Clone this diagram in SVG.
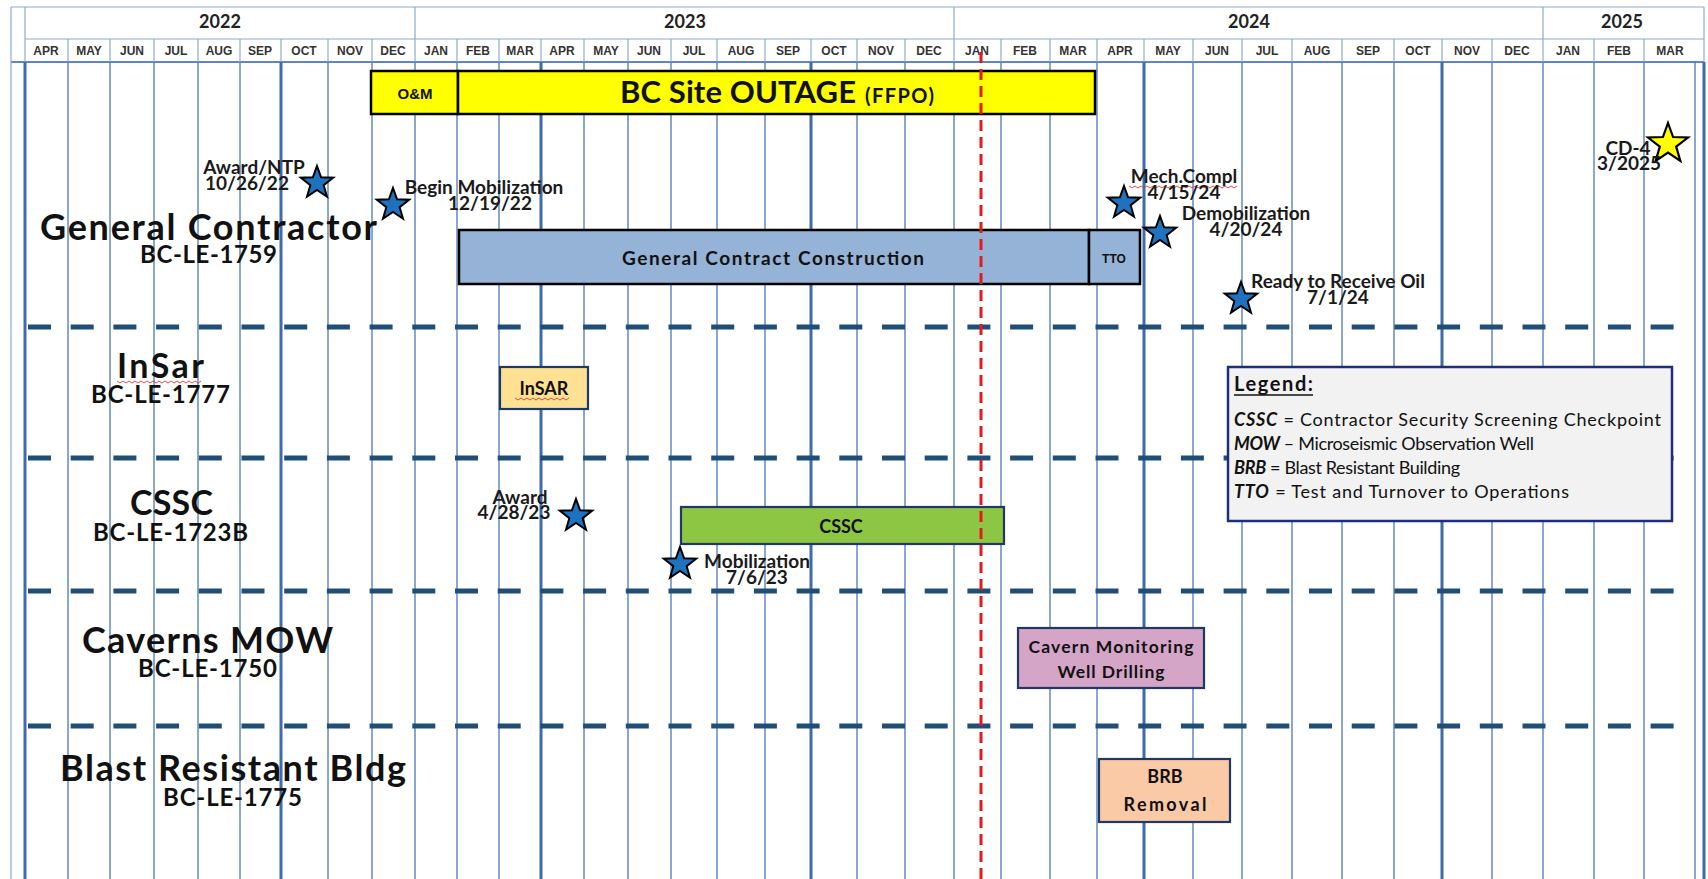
<svg xmlns="http://www.w3.org/2000/svg" xmlns:xlink="http://www.w3.org/1999/xlink" width="1708" height="879" viewBox="0 0 1708 879">
<defs>
<style>
.yr{font-family:Lato,"Open Sans",sans-serif;font-weight:bold;font-size:18px;fill:#222;text-anchor:middle}
.mo{font-family:"Liberation Sans",Arial,sans-serif;font-weight:bold;font-size:12px;fill:#333;text-anchor:middle}
.big{font-family:Lato,"Open Sans",sans-serif;font-weight:bold;font-size:36px;fill:#111}
.sub{font-family:Lato,"Open Sans",sans-serif;font-weight:bold;font-size:24px;fill:#111}
.ms{font-family:Lato,"Open Sans",sans-serif;font-weight:bold;font-size:19px;fill:#1a1a1a;text-anchor:middle}
.bx{font-family:Lato,"Open Sans",sans-serif;font-weight:bold;font-size:18px;fill:#111;text-anchor:middle}
.ar{font-family:"Liberation Sans",Arial,sans-serif;font-weight:bold;fill:#111;text-anchor:middle}
.lg{font-family:Lato,"Open Sans",sans-serif;font-size:18px;fill:#111}
.lgb{font-weight:bold;font-style:italic}
.hl{stroke:#8eaad6;stroke-width:1.2;fill:none}
.gl{stroke:#4a78b5;stroke-width:1.3}
.gt{stroke:#3d6ca8;stroke-width:3}
.sep{stroke:#1f4e79;stroke-width:5;stroke-dasharray:23 19.7;fill:none}
.box{stroke:#1f3864;stroke-width:2.2}
.bar{stroke:#000;stroke-width:2.5}
.star{fill:#1e73be;stroke:#000;stroke-width:2;stroke-linejoin:miter}
.sq{stroke:#e03a3a;stroke-width:0.9;fill:none}
</style>
<path id="st" d="M0,-17 L4.11,-5.66 L16.17,-5.25 L6.66,2.16 L9.99,13.75 L0,7 L-9.99,13.75 L-6.66,2.16 L-16.17,-5.25 L-4.11,-5.66 Z"/>
</defs>
<rect width="1708" height="879" fill="#fff"/>

<g id="header">
<line class="hl" x1="11" y1="7" x2="1704" y2="7"/>
<line class="hl" x1="25" y1="39" x2="1704" y2="39"/>
<line x1="11" y1="62" x2="1704" y2="62" stroke="#5b87c5" stroke-width="2"/>
<line class="hl" x1="11" y1="7" x2="11" y2="879" stroke="#a9c1e3"/>
<line class="hl" x1="25" y1="7" x2="25" y2="62"/>
<line class="hl" x1="415" y1="7" x2="415" y2="39"/>
<line class="hl" x1="954" y1="7" x2="954" y2="39"/>
<line class="hl" x1="1543" y1="7" x2="1543" y2="39"/>
<g class="hl">
<line x1="68" y1="39" x2="68" y2="62"/><line x1="110" y1="39" x2="110" y2="62"/><line x1="154" y1="39" x2="154" y2="62"/><line x1="198" y1="39" x2="198" y2="62"/><line x1="240" y1="39" x2="240" y2="62"/><line x1="281" y1="39" x2="281" y2="62"/><line x1="328" y1="39" x2="328" y2="62"/><line x1="372" y1="39" x2="372" y2="62"/><line x1="415" y1="39" x2="415" y2="62"/><line x1="457" y1="39" x2="457" y2="62"/><line x1="499" y1="39" x2="499" y2="62"/><line x1="541" y1="39" x2="541" y2="62"/><line x1="584" y1="39" x2="584" y2="62"/><line x1="628" y1="39" x2="628" y2="62"/><line x1="671" y1="39" x2="671" y2="62"/><line x1="717" y1="39" x2="717" y2="62"/><line x1="765" y1="39" x2="765" y2="62"/><line x1="811" y1="39" x2="811" y2="62"/><line x1="857" y1="39" x2="857" y2="62"/><line x1="905" y1="39" x2="905" y2="62"/><line x1="954" y1="39" x2="954" y2="62"/><line x1="1001" y1="39" x2="1001" y2="62"/><line x1="1050" y1="39" x2="1050" y2="62"/><line x1="1097" y1="39" x2="1097" y2="62"/><line x1="1144" y1="39" x2="1144" y2="62"/><line x1="1193" y1="39" x2="1193" y2="62"/><line x1="1242" y1="39" x2="1242" y2="62"/><line x1="1292" y1="39" x2="1292" y2="62"/><line x1="1342" y1="39" x2="1342" y2="62"/><line x1="1394" y1="39" x2="1394" y2="62"/><line x1="1442" y1="39" x2="1442" y2="62"/><line x1="1492" y1="39" x2="1492" y2="62"/><line x1="1543" y1="39" x2="1543" y2="62"/><line x1="1594" y1="39" x2="1594" y2="62"/><line x1="1644" y1="39" x2="1644" y2="62"/><line x1="1704" y1="7" x2="1704" y2="62"/>
</g>
<text class="yr" x="220" y="28">2022</text>
<text class="yr" x="685" y="28">2023</text>
<text class="yr" x="1249" y="28">2024</text>
<text class="yr" x="1622" y="28">2025</text>
<g class="mo">
<text x="46" y="55">APR</text><text x="89" y="55">MAY</text><text x="132" y="55">JUN</text><text x="176" y="55">JUL</text><text x="219" y="55">AUG</text><text x="260" y="55">SEP</text><text x="304" y="55">OCT</text><text x="350" y="55">NOV</text><text x="393" y="55">DEC</text>
<text x="436" y="55">JAN</text><text x="478" y="55">FEB</text><text x="520" y="55">MAR</text><text x="562" y="55">APR</text><text x="606" y="55">MAY</text><text x="649" y="55">JUN</text><text x="694" y="55">JUL</text><text x="741" y="55">AUG</text><text x="788" y="55">SEP</text><text x="834" y="55">OCT</text><text x="881" y="55">NOV</text><text x="929" y="55">DEC</text>
<text x="977" y="55">JAN</text><text x="1025" y="55">FEB</text><text x="1073" y="55">MAR</text><text x="1120" y="55">APR</text><text x="1168" y="55">MAY</text><text x="1217" y="55">JUN</text><text x="1267" y="55">JUL</text><text x="1317" y="55">AUG</text><text x="1368" y="55">SEP</text><text x="1418" y="55">OCT</text><text x="1467" y="55">NOV</text><text x="1517" y="55">DEC</text>
<text x="1568" y="55">JAN</text><text x="1619" y="55">FEB</text><text x="1670" y="55">MAR</text>
</g>
</g>

<g id="grid">
<g class="gl">
<line x1="68" y1="62" x2="68" y2="879"/><line x1="110" y1="62" x2="110" y2="879"/><line x1="154" y1="62" x2="154" y2="879"/><line x1="198" y1="62" x2="198" y2="879"/><line x1="240" y1="62" x2="240" y2="879"/><line x1="328" y1="62" x2="328" y2="879"/><line x1="372" y1="62" x2="372" y2="879"/><line x1="415" y1="62" x2="415" y2="879"/><line x1="457" y1="62" x2="457" y2="879"/><line x1="499" y1="62" x2="499" y2="879"/><line x1="584" y1="62" x2="584" y2="879"/><line x1="628" y1="62" x2="628" y2="879"/><line x1="671" y1="62" x2="671" y2="879"/><line x1="717" y1="62" x2="717" y2="879"/><line x1="765" y1="62" x2="765" y2="879"/><line x1="857" y1="62" x2="857" y2="879"/><line x1="905" y1="62" x2="905" y2="879"/><line x1="954" y1="62" x2="954" y2="879"/><line x1="1001" y1="62" x2="1001" y2="879"/><line x1="1050" y1="62" x2="1050" y2="879"/><line x1="1097" y1="62" x2="1097" y2="879"/><line x1="1193" y1="62" x2="1193" y2="879"/><line x1="1242" y1="62" x2="1242" y2="879"/><line x1="1292" y1="62" x2="1292" y2="879"/><line x1="1342" y1="62" x2="1342" y2="879"/><line x1="1394" y1="62" x2="1394" y2="879"/><line x1="1492" y1="62" x2="1492" y2="879"/><line x1="1543" y1="62" x2="1543" y2="879"/><line x1="1594" y1="62" x2="1594" y2="879"/><line x1="1644" y1="62" x2="1644" y2="879"/><line x1="1695" y1="62" x2="1695" y2="879"/>
</g>
<g class="gt">
<line x1="25" y1="62" x2="25" y2="879"/><line x1="281" y1="62" x2="281" y2="879"/><line x1="541" y1="62" x2="541" y2="879"/><line x1="811" y1="62" x2="811" y2="879"/><line x1="1144" y1="62" x2="1144" y2="879"/><line x1="1442" y1="62" x2="1442" y2="879"/><line x1="1704" y1="62" x2="1704" y2="879"/>
</g>
</g>

<g id="separators">
<line class="sep" x1="28" y1="327" x2="1692" y2="327"/>
<line class="sep" x1="28" y1="458" x2="1692" y2="458"/>
<line class="sep" x1="28" y1="591" x2="1692" y2="591"/>
<line class="sep" x1="28" y1="726" x2="1692" y2="726"/>
</g>

<g id="row-labels">
<text class="big" x="40" y="240" textLength="337" lengthAdjust="spacing">General Contractor</text>
<text class="sub" x="140" y="263" textLength="137" lengthAdjust="spacing">BC-LE-1759</text>
<text class="big" x="117" y="378" textLength="87" lengthAdjust="spacing" style="font-size:34px">InSar</text>
<path class="sq" d="M117,381 l3,2 l3,-2 l3,2 l3,-2 l3,2 l3,-2 l3,2 l3,-2 l3,2 l3,-2 l3,2 l3,-2 l3,2 l3,-2 l3,2 l3,-2 l3,2 l3,-2 l3,2 l3,-2 l3,2 l3,-2 l3,2 l3,-2 l3,2 l3,-2 l3,2 l3,-2"/>
<text class="sub" x="91" y="403" textLength="139" lengthAdjust="spacing">BC-LE-1777</text>
<text class="big" x="130" y="515" textLength="83" lengthAdjust="spacing" style="font-size:34px">CSSC</text>
<text class="sub" x="93" y="541" textLength="155" lengthAdjust="spacing">BC-LE-1723B</text>
<text class="big" x="82" y="653" textLength="251" lengthAdjust="spacing">Caverns MOW</text>
<text class="sub" x="138" y="677" textLength="139" lengthAdjust="spacing">BC-LE-1750</text>
<text class="big" x="60" y="781" textLength="346" lengthAdjust="spacing">Blast Resistant Bldg</text>
<text class="sub" x="163" y="806" textLength="139" lengthAdjust="spacing">BC-LE-1775</text>
</g>

<g id="outage">
<rect class="bar" x="371" y="71" width="87" height="43" fill="#ffff00"/>
<text class="ar" x="415" y="99" style="font-size:15px">O&amp;M</text>
<rect class="bar" x="458" y="71" width="637" height="43" fill="#ffff00"/>
<text class="bx" x="620" y="103" textLength="236" lengthAdjust="spacing" style="font-size:31px;text-anchor:start">BC Site OUTAGE</text>
<text class="bx" x="865" y="103" textLength="69" lengthAdjust="spacing" style="font-size:20px;text-anchor:start">(FFPO)</text>
</g>

<g id="gc-construction">
<rect class="bar" x="459" y="230" width="630" height="54" fill="#95b3d7"/>
<text class="bx" x="773" y="265" textLength="302" lengthAdjust="spacing" style="font-size:19px">General Contract Construction</text>
</g>
<g id="tto">
<rect class="bar" x="1089" y="230" width="51" height="54" fill="#95b3d7"/>
<text class="ar" x="1114" y="263" style="font-size:12px">TTO</text>
</g>

<g id="insar-box">
<rect class="box" x="500" y="367" width="88" height="42" fill="#ffe194"/>
<text class="bx" x="544" y="395">InSAR</text>
<path class="sq" d="M515,398 l3,2 l3,-2 l3,2 l3,-2 l3,2 l3,-2 l3,2 l3,-2 l3,2 l3,-2 l3,2 l3,-2 l3,2 l3,-2 l3,2 l3,-2 l3,2 l3,-2"/>
</g>

<g id="cssc-box">
<rect class="box" x="681" y="507" width="323" height="37" fill="#8dc642"/>
<text class="bx" x="841" y="533">CSSC</text>
</g>

<g id="cavern-box">
<rect class="box" x="1018" y="628" width="186" height="60" fill="#d4a5c6"/>
<text class="bx" x="1111" y="653" textLength="165" lengthAdjust="spacing" style="font-size:17.5px">Cavern Monitoring</text>
<text class="bx" x="1111" y="678" textLength="107" lengthAdjust="spacing" style="font-size:17.5px">Well Drilling</text>
</g>

<g id="brb-box">
<rect class="box" x="1099" y="759" width="131" height="63" fill="#fac9a6"/>
<text class="bx" x="1165" y="783">BRB</text>
<text class="bx" x="1165" y="811" textLength="83" lengthAdjust="spacing">Removal</text>
</g>

<g id="today-line">
<line x1="981" y1="52" x2="981" y2="879" stroke="#e31a1c" stroke-width="3" stroke-dasharray="11 6"/>
</g>

<g id="milestones">
<g id="m-award-ntp">
<use xlink:href="#st" href="#st" class="star" transform="translate(317,183)"/>
<text class="ms" x="254" y="174">Award/NTP</text>
<text class="ms" x="247" y="190">10/26/22</text>
</g>
<g id="m-begin-mob">
<use xlink:href="#st" href="#st" class="star" transform="translate(393,205)"/>
<text class="ms" x="484" y="194">Begin Mobilization</text>
<text class="ms" x="490" y="210">12/19/22</text>
</g>
<g id="m-mech">
<use xlink:href="#st" href="#st" class="star" transform="translate(1124,203)"/>
<text class="ms" x="1184" y="183">Mech.Compl</text>
<path class="sq" d="M1129,186 l3,2 l3,-2 l3,2 l3,-2 l3,2 l3,-2 l3,2 l3,-2 l3,2 l3,-2 l3,2 l3,-2 l3,2 l3,-2 l3,2 l3,-2 l3,2 l3,-2 l3,2 l3,-2 l3,2 l3,-2 l3,2 l3,-2 l3,2 l3,-2 l3,2 l3,-2 l3,2 l3,-2 l3,2 l3,-2 l3,2 l3,-2 l3,2 l3,-2"/>
<text class="ms" x="1184" y="199">4/15/24</text>
</g>
<g id="m-demob">
<use xlink:href="#st" href="#st" class="star" transform="translate(1160,233)"/>
<text class="ms" x="1246" y="220">Demobilization</text>
<text class="ms" x="1246" y="236">4/20/24</text>
</g>
<g id="m-ready">
<use xlink:href="#st" href="#st" class="star" transform="translate(1241,299)"/>
<text class="ms" x="1338" y="288">Ready to Receive Oil</text>
<text class="ms" x="1338" y="304">7/1/24</text>
</g>
<g id="m-cd4">
<path d="M0,-21 L5.06,-6.96 L19.97,-6.49 L8.18,2.66 L12.34,16.99 L0,8.6 L-12.34,16.99 L-8.18,2.66 L-19.97,-6.49 L-5.06,-6.96 Z" fill="#ffff00" stroke="#000" stroke-width="2.2" transform="translate(1668,144)"/>
<text class="ms" x="1628" y="155">CD-4</text>
<text class="ms" x="1629" y="170">3/2025</text>
</g>
<g id="m-cssc-award">
<use xlink:href="#st" href="#st" class="star" transform="translate(576,516)"/>
<text class="ms" x="520" y="504">Award</text>
<text class="ms" x="514" y="519">4/28/23</text>
</g>
<g id="m-cssc-mob">
<use xlink:href="#st" href="#st" class="star" transform="translate(680,564)"/>
<text class="ms" x="757" y="568">Mobilization</text>
<text class="ms" x="757" y="584">7/6/23</text>
</g>
</g>

<g id="legend">
<rect x="1228" y="367" width="444" height="154" fill="#f2f2f2" stroke="#1f2d7a" stroke-width="2.5"/>
<text class="lg" x="1234" y="391" textLength="79" lengthAdjust="spacing" style="font-weight:bold;font-size:20px">Legend:</text>
<line x1="1234" y1="395" x2="1313" y2="395" stroke="#111" stroke-width="1.5"/>
<text class="lg" x="1234" y="426" textLength="427" lengthAdjust="spacing"><tspan class="lgb">CSSC</tspan> = Contractor Security Screening Checkpoint</text>
<text class="lg" x="1234" y="450" textLength="300" lengthAdjust="spacing"><tspan class="lgb">MOW</tspan> – Microseismic Observation Well</text>
<text class="lg" x="1234" y="474" textLength="226" lengthAdjust="spacing"><tspan class="lgb">BRB</tspan> = Blast Resistant Building</text>
<text class="lg" x="1234" y="498" textLength="335" lengthAdjust="spacing"><tspan class="lgb">TTO</tspan> = Test and Turnover to Operations</text>
</g>
</svg>
